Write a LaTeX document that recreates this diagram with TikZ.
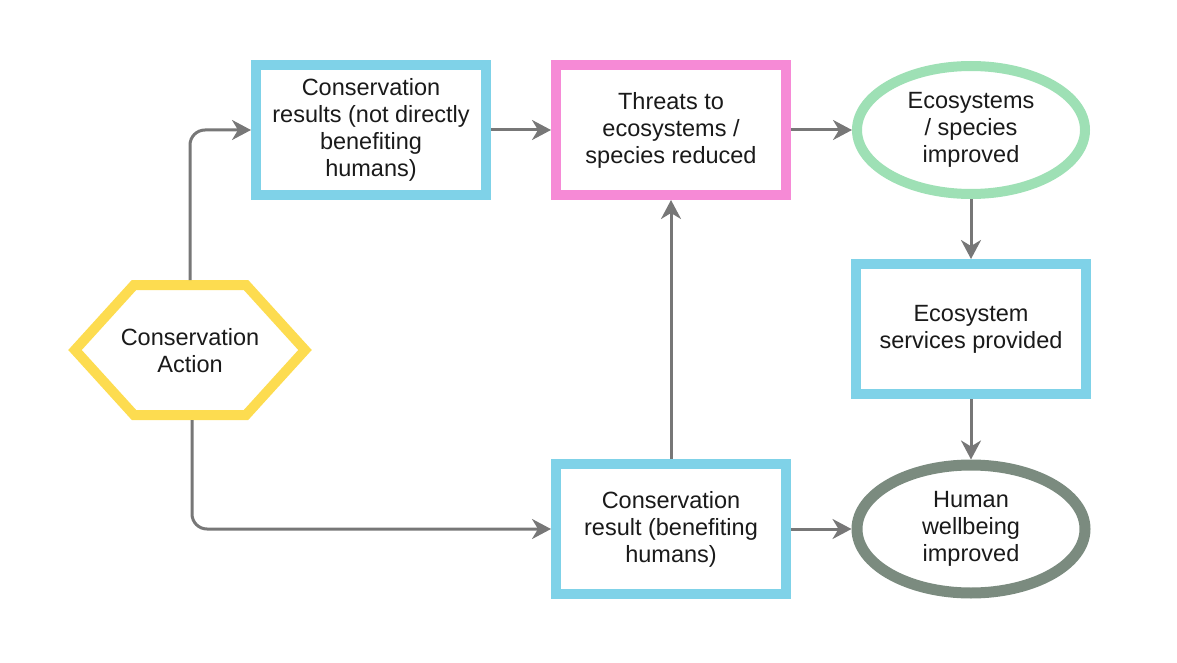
\documentclass[tikz,border=0pt]{standalone}
\usepackage{fontspec}
\setmainfont{Liberation Sans}
\usetikzlibrary{shapes.geometric,arrows.meta}
\definecolor{cblue}{HTML}{7FD2E8}
\definecolor{cpink}{HTML}{F68AD6}
\definecolor{cgreen}{HTML}{9EE0B5}
\definecolor{cdark}{HTML}{7B8B7F}
\definecolor{cyellow}{HTML}{FDDC50}
\definecolor{arrowc}{HTML}{777777}
\definecolor{textc}{HTML}{1A1A1A}
\begin{document}
\begin{tikzpicture}[x=1pt,y=-1pt,
  txt/.style={font=\fontsize{23.5}{27}\selectfont, text=textc, align=center},
  box/.style={txt, draw=#1, line width=10pt, fill=white, minimum width=230pt, minimum height=130pt, inner sep=0pt},
  oval/.style={txt, ellipse, draw=#1, line width=10pt, fill=white, minimum width=228pt, minimum height=128pt, inner sep=0pt},
  conn/.style={draw=arrowc, line width=3pt, -{Stealth[length=19pt,width=20pt,inset=6pt]}, rounded corners=15pt}]
\useasboundingbox (0,0) rectangle (1177,663);

% hexagon
\draw[cyellow, line width=10pt, fill=white, line join=miter]
  (75,350) -- (134,285) -- (246,285) -- (305,350) -- (246,415) -- (134,415) -- cycle;
\node[txt] (act) at (190,351) {Conservation\\Action};
\coordinate (actT) at (190,280);
\coordinate (actB) at (192,420);

\node[box=cblue] (res1) at (371,130) {Conservation\\results (not directly\\benefiting\\humans)};
\node[box=cpink] (thr) at (671,130) {Threats to\\ecosystems /\\species reduced};
\node[oval=cgreen] (eco) at (971,130) {Ecosystems\\/ species\\improved};
\node[box=cblue] (srv) at (971,329) {Ecosystem\\services provided};
\node[oval=cdark, line width=11pt] (hum) at (971,529) {Human\\wellbeing\\improved};
\node[box=cblue] (res2) at (671,529) {Conservation\\result (benefiting\\humans)};

\draw[conn] (actT) |- (res1.west);
\draw[conn] (actB) |- (res2.west);
\draw[conn] (res1) -- (thr);
\draw[conn] (thr) -- (eco);
\draw[conn] (eco) -- (srv);
\draw[conn] (srv) -- (hum);
\draw[conn] (res2) -- (hum);
\draw[conn] (res2) -- (thr);
\end{tikzpicture}
\end{document}
